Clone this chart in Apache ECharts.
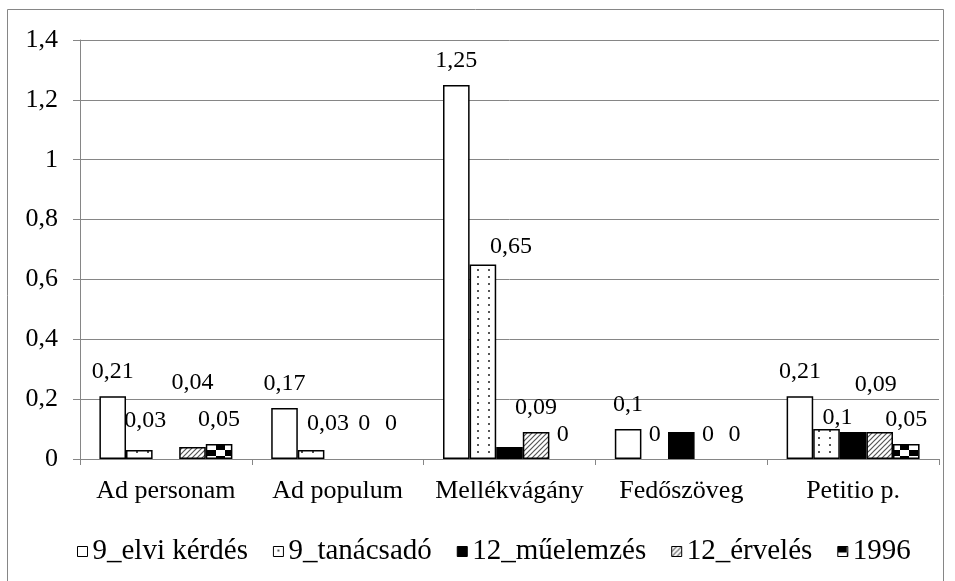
<!DOCTYPE html>
<html>
<head>
<meta charset="utf-8">
<script src="https://cdn.jsdelivr.net/npm/echarts@6/dist/echarts.min.js"></script>
<style>html,body{margin:0;padding:0;background:#fff}#c{width:955px;height:581px}</style>
</head>
<body>
<div id="c"></div>
<script>
const categories = ['Ad personam', 'Ad populum', 'Mellékvágány', 'Fedőszöveg', 'Petitio p.'];
const seriesNames = ['9_elvi kérdés', '9_tanácsadó', '12_műelemzés', '12_érvelés', '1996'];
const elviKerdes   = [0.21, 0.17, 1.25, 0.10, 0.21];
const tanacsado    = [0.03, 0.03, 0.65, 0,    0.10];
const muelemzes    = [0,    0,    0.04, 0.09, 0.09];
const erveles      = [0.04, 0,    0.09, 0,    0.09];
const y1996        = [0.05, 0,    0,    0,    0.05];
const yTickLabels = ['0', '0,2', '0,4', '0,6', '0,8', '1', '1,2', '1,4'];

const FONT = 'Liberation Serif';

function tile(w, h, draw) {
  const c = document.createElement('canvas');
  c.width = w; c.height = h;
  const g = c.getContext('2d');
  g.fillStyle = '#fff'; g.fillRect(0, 0, w, h);
  draw(g);
  return { image: c, repeat: 'repeat' };
}
const dotPattern = tile(11, 7, g => { g.fillStyle = '#555'; g.fillRect(4, 3, 2, 2); });
const hatchPattern = tile(5, 5, g => {
  g.strokeStyle = '#555'; g.lineWidth = 1.2;
  g.beginPath();
  g.moveTo(-1, 6); g.lineTo(6, -1);
  g.moveTo(-1, 1); g.lineTo(1, -1);
  g.moveTo(4, 6); g.lineTo(6, 4);
  g.stroke();
});
const checkPattern = tile(18, 12, g => {
  g.fillStyle = '#000'; g.fillRect(0, 0, 9, 6); g.fillRect(9, 6, 9, 6);
});

const fmt = v => String(v).replace('.', ',');

// label nudges (styling only)
const nudges = {
  1: { 0: [6, -5], 1: [17, -2], 2: [28, 6], 4: [11, 13] },
  3: { 0: [0, -40], 1: [0, -11], 4: [-4, -23] },
  4: { 1: [0, -11] }
};

const allVals = [elviKerdes, tanacsado, muelemzes, erveles, y1996];
const colors = ['#fff', dotPattern, '#000', hatchPattern, checkPattern];

const series = allVals.map((vals, s) => ({
  name: seriesNames[s],
  type: 'bar',
  barGap: '0%',
  barCategoryGap: '22.6%',
  itemStyle: { color: colors[s], borderColor: '#000', borderWidth: 1.5 },
  label: {
    show: s !== 2,
    position: 'top',
    distance: 12,
    fontFamily: FONT,
    fontSize: 24,
    color: '#000',
    formatter: p => fmt(p.value)
  },
  data: vals.map((v, i) => {
    const item = { value: v };
    const n = nudges[s] && nudges[s][i];
    if (n) item.label = { offset: n };
    if (v === 0) item.itemStyle = { borderWidth: 0, color: 'rgba(0,0,0,0)', borderColor: 'rgba(0,0,0,0)' };
    return item;
  })
}));

const chart = echarts.init(document.getElementById('c'), null, { renderer: 'canvas' });
chart.setOption({
  animation: false,
  backgroundColor: '#fff',
  textStyle: { fontFamily: FONT },
  grid: { left: 80, right: 16, top: 40, bottom: 122, containLabel: false },
  legend: {
    left: 72,
    top: 532,
    itemWidth: 10,
    itemHeight: 10,
    itemGap: 25,
    icon: 'rect',
    itemStyle: { borderWidth: 1, borderColor: '#000' },
    textStyle: { fontFamily: FONT, fontSize: 29, color: '#000' },
    data: seriesNames
  },
  xAxis: {
    type: 'category',
    data: categories,
    axisLine: { lineStyle: { color: '#868686', width: 1 } },
    axisTick: { show: true, length: 6, lineStyle: { color: '#868686' } },
    axisLabel: { fontFamily: FONT, fontSize: 26, color: '#000', margin: 19, interval: 0 }
  },
  yAxis: {
    type: 'value',
    min: 0, max: 1.4, interval: 0.2,
    axisLine: { show: true, lineStyle: { color: '#868686', width: 1 } },
    axisTick: { show: true, length: 7, lineStyle: { color: '#868686' } },
    splitLine: { lineStyle: { color: '#868686', width: 1 } },
    axisLabel: {
      fontFamily: FONT, fontSize: 26, color: '#000', margin: 22,
      formatter: v => yTickLabels[Math.round(v / 0.2)]
    }
  },
  graphic: [{
    type: 'rect',
    shape: { x: 7.5, y: 9.5, width: 936, height: 600 },
    style: { fill: 'none', stroke: '#868686', lineWidth: 1 },
    silent: true
  }],
  series
});
</script>
</body>
</html>
